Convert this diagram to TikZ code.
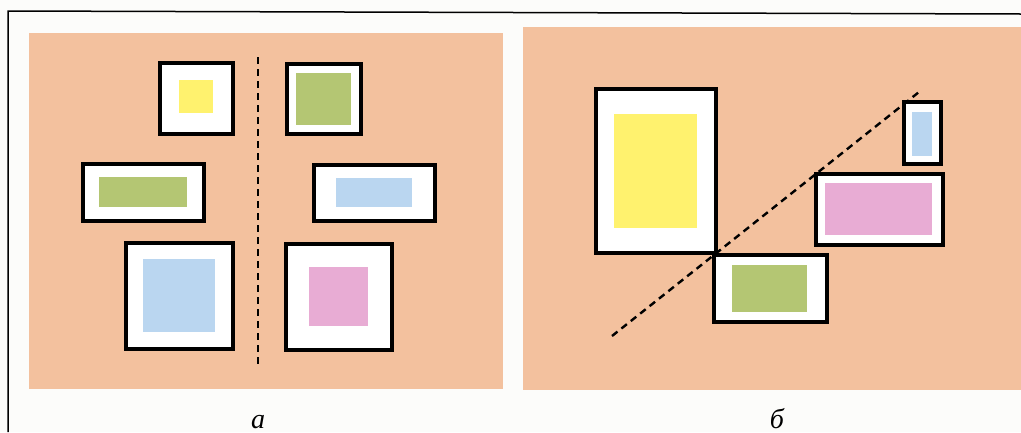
\documentclass[tikz,border=0pt]{standalone}
\usepackage{fontspec}
\setmainfont{Liberation Serif}
\begin{document}
\begin{tikzpicture}[x=1pt,y=-1pt,
  panel/.style={fill=peach,draw=none},
  picframe/.style={fill=white,draw=black,line width=3.6pt},
  guide/.style={draw=black,line width=2.4pt,dash pattern=on 7pt off 5pt},
  rule/.style={draw=black,line width=1.5pt},
  lbl/.style={font=\fontsize{28}{28}\selectfont\itshape,inner sep=0pt,anchor=base}]
\definecolor{peach}{RGB}{243,193,158}
\definecolor{pyellow}{RGB}{255,242,110}
\definecolor{pgreen}{RGB}{180,198,115}
\definecolor{pblue}{RGB}{186,214,240}
\definecolor{ppink}{RGB}{232,172,212}
\definecolor{paper}{RGB}{252,252,250}
\useasboundingbox (0,0) rectangle (1021,432);
\fill[paper] (0,0) rectangle (1021,432);
% outer rules
\draw[rule] (8,432) -- (8,11) -- (1021,14);
% panels
\path[panel] (29,33) rectangle (503,389);
\path[panel] (523,27) rectangle (1021,390);
% panel a
\draw[guide] (258,57) -- (258,367);
\filldraw[picframe] (160,63) rectangle (233,134);
\fill[pyellow] (179,80) rectangle (213,113);
\filldraw[picframe] (287,64) rectangle (361,134);
\fill[pgreen] (296,73) rectangle (351,125);
\filldraw[picframe] (83,164) rectangle (204,221);
\fill[pgreen] (99,177) rectangle (187,207);
\filldraw[picframe] (314,165) rectangle (435,221);
\fill[pblue] (336,178) rectangle (412,207);
\filldraw[picframe] (126,243) rectangle (233,349);
\fill[pblue] (143,259) rectangle (215,332);
\filldraw[picframe] (286,244) rectangle (392,350);
\fill[ppink] (309,267) rectangle (368,326);
% panel b
\filldraw[picframe] (596,89) rectangle (716,253);
\fill[pyellow] (614,114) rectangle (697,228);
\filldraw[picframe] (904,102) rectangle (941,164);
\fill[pblue] (912,112) rectangle (932,156);
\filldraw[picframe] (816,174) rectangle (943,245);
\fill[ppink] (825,183) rectangle (932,235);
\filldraw[picframe] (714,255) rectangle (827,322);
\fill[pgreen] (732,265) rectangle (807,312);
\coordinate (d1) at (612,336);
\coordinate (d2) at (919,92);
\draw[guide] (d1) -- (d2);
% labels
\node[lbl] (la) at (258,428) {a};
\node[lbl] (lb) at (777,428) {б};
\end{tikzpicture}
\end{document}
